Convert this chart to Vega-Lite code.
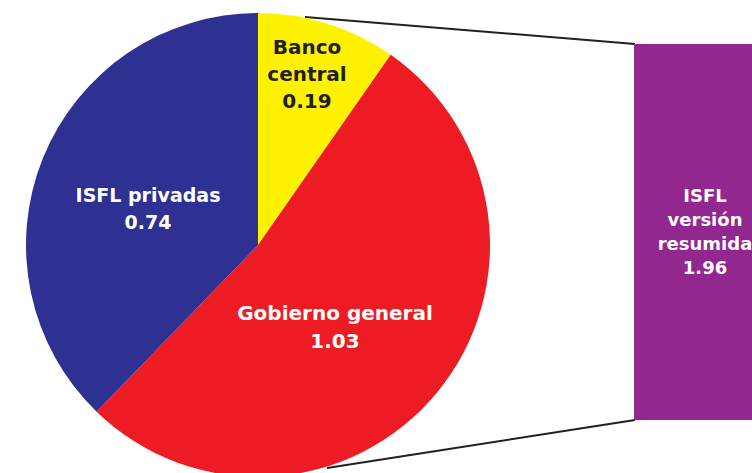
{
  "$schema": "https://vega.github.io/schema/vega-lite/v6.json",
  "width": 752,
  "height": 473,
  "autosize": {"type": "none"},
  "padding": 0,
  "background": "white",
  "config": {"view": {"stroke": null}},
  "datasets": {
    "pie": [
      {"sector": "Banco central", "value": 0.19, "label": "Banco\ncentral\n0.19"},
      {"sector": "Gobierno general", "value": 1.03, "label": "Gobierno general\n1.03"},
      {"sector": "ISFL privadas", "value": 0.74, "label": "ISFL privadas\n0.74"}
    ],
    "total": [
      {"name": "ISFL versión resumida", "value": 1.96, "label": "ISFL\nversión\nresumida\n1.96"}
    ]
  },
  "layer": [
    {
      "data": {"name": "total"},
      "mark": {"type": "rule", "color": "#231F20", "strokeWidth": 2},
      "encoding": {
        "x": {"datum": 305, "type": "quantitative", "scale": {"domain": [0, 752], "nice": false, "zero": false}, "axis": null},
        "y": {"datum": 17, "type": "quantitative", "scale": {"domain": [0, 473], "nice": false, "zero": false, "reverse": true}, "axis": null},
        "x2": {"datum": 635},
        "y2": {"datum": 44}
      }
    },
    {
      "data": {"name": "total"},
      "mark": {"type": "rule", "color": "#231F20", "strokeWidth": 2},
      "encoding": {
        "x": {"datum": 327, "type": "quantitative", "scale": {"domain": [0, 752], "nice": false, "zero": false}, "axis": null},
        "y": {"datum": 468, "type": "quantitative", "scale": {"domain": [0, 473], "nice": false, "zero": false, "reverse": true}, "axis": null},
        "x2": {"datum": 635},
        "y2": {"datum": 420}
      }
    },
    {
      "data": {"name": "pie"},
      "mark": {"type": "arc", "outerRadius": 232, "innerRadius": 0, "stroke": null},
      "encoding": {
        "theta": {"field": "value", "type": "quantitative", "stack": true},
        "color": {"field": "sector", "type": "nominal", "legend": null,
          "scale": {"domain": ["Banco central", "Gobierno general", "ISFL privadas"], "range": ["#FFF200", "#ED1C24", "#2E3192"]}},
        "x": {"datum": 258, "type": "quantitative", "scale": {"domain": [0, 752], "nice": false, "zero": false}, "axis": null},
        "y": {"datum": 245, "type": "quantitative", "scale": {"domain": [0, 473], "nice": false, "zero": false, "reverse": true}, "axis": null}
      }
    },
    {
      "data": {"name": "total"},
      "mark": {"type": "rect", "color": "#92278F"},
      "encoding": {
        "x": {"datum": 634, "type": "quantitative", "scale": {"domain": [0, 752], "nice": false, "zero": false}, "axis": null},
        "x2": {"datum": 776},
        "y": {"datum": 44, "type": "quantitative", "scale": {"domain": [0, 473], "nice": false, "zero": false, "reverse": true}, "axis": null},
        "y2": {"datum": 420}
      }
    },
    {
      "data": {"name": "total"},
      "mark": {"type": "text", "lineBreak": "\n", "lineHeight": 24, "font": "DejaVu Sans", "fontWeight": "bold", "fontSize": 18, "color": "white", "align": "center", "baseline": "middle"},
      "encoding": {
        "text": {"field": "label"},
        "x": {"datum": 705, "type": "quantitative", "scale": {"domain": [0, 752], "nice": false, "zero": false}, "axis": null},
        "y": {"datum": 197, "type": "quantitative", "scale": {"domain": [0, 473], "nice": false, "zero": false, "reverse": true}, "axis": null}
      }
    },
    {
      "data": {"name": "pie"},
      "transform": [{"filter": "datum.sector == 'Banco central'"}],
      "mark": {"type": "text", "lineBreak": "\n", "lineHeight": 27, "font": "DejaVu Sans", "fontWeight": "bold", "fontSize": 20, "color": "#231F20", "align": "center", "baseline": "middle"},
      "encoding": {
        "text": {"field": "label"},
        "x": {"datum": 307, "type": "quantitative", "scale": {"domain": [0, 752], "nice": false, "zero": false}, "axis": null},
        "y": {"datum": 48, "type": "quantitative", "scale": {"domain": [0, 473], "nice": false, "zero": false, "reverse": true}, "axis": null}
      }
    },
    {
      "data": {"name": "pie"},
      "transform": [{"filter": "datum.sector == 'ISFL privadas'"}],
      "mark": {"type": "text", "lineBreak": "\n", "lineHeight": 27, "font": "DejaVu Sans", "fontWeight": "bold", "fontSize": 19, "color": "white", "align": "center", "baseline": "middle"},
      "encoding": {
        "text": {"field": "label"},
        "x": {"datum": 148, "type": "quantitative", "scale": {"domain": [0, 752], "nice": false, "zero": false}, "axis": null},
        "y": {"datum": 196, "type": "quantitative", "scale": {"domain": [0, 473], "nice": false, "zero": false, "reverse": true}, "axis": null}
      }
    },
    {
      "data": {"name": "pie"},
      "transform": [{"filter": "datum.sector == 'Gobierno general'"}],
      "mark": {"type": "text", "lineBreak": "\n", "lineHeight": 28, "font": "DejaVu Sans", "fontWeight": "bold", "fontSize": 20, "color": "white", "align": "center", "baseline": "middle"},
      "encoding": {
        "text": {"field": "label"},
        "x": {"datum": 335, "type": "quantitative", "scale": {"domain": [0, 752], "nice": false, "zero": false}, "axis": null},
        "y": {"datum": 314, "type": "quantitative", "scale": {"domain": [0, 473], "nice": false, "zero": false, "reverse": true}, "axis": null}
      }
    }
  ]
}
